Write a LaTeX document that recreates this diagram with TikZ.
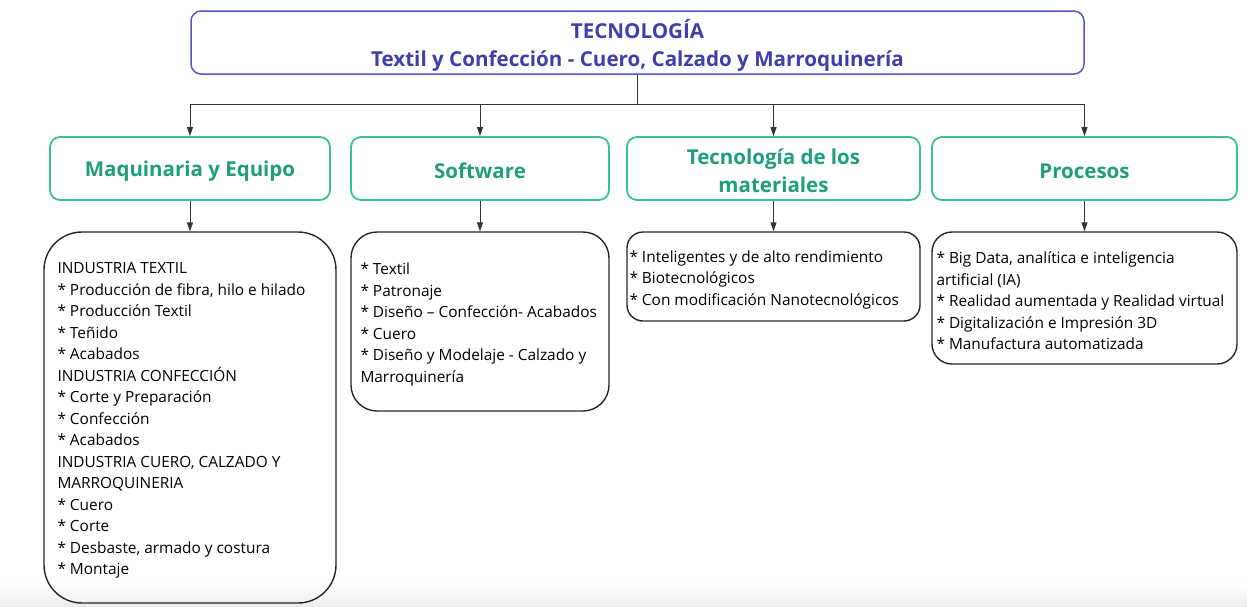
\documentclass[tikz,border=0pt]{standalone}
\usepackage{fontspec}
\setmainfont{Open Sans}
\usetikzlibrary{arrows.meta}
\definecolor{topborder}{HTML}{5558C4}
\definecolor{toptext}{HTML}{3C40A8}
\definecolor{tealborder}{HTML}{3DBE9A}
\definecolor{tealtext}{HTML}{1F9E7C}
\definecolor{linecol}{HTML}{333333}
\tikzset{
  x=1pt, y=-1pt,
  topbox/.style={draw=topborder, line width=1.5pt, rounded corners=10pt, minimum width=893pt, minimum height=63pt},
  toplabel/.style={align=center, inner sep=0pt, text=toptext, font=\bfseries\fontsize{20.6}{28}\selectfont},
  catbox/.style={draw=tealborder, line width=1.8pt, rounded corners=10pt, minimum height=63pt},
  catlabel/.style={align=center, inner sep=0pt, text=tealtext, font=\bfseries\fontsize{20.5}{28}\selectfont},
  listbox/.style={draw=black!85, line width=1.4pt},
  listtext/.style={anchor=west, align=left, inner sep=0pt, font=\fontsize{15.4}{21.5}\selectfont},
  conn/.style={draw=linecol, line width=1pt},
  arr/.style={conn, -{Stealth[length=9pt,width=6pt,inset=0pt]}},
}
\begin{document}
\begin{tikzpicture}
\useasboundingbox (0,0) rectangle (1247,606);
\shade[top color=white, bottom color=black!7] (0,582) rectangle (1247,606);

\node[topbox] (top) at (637.5,42.5) {};
\node[toplabel] (toptxt) at ([yshift=-2.5pt]top.center) {TECNOLOGÍA\\Textil y Confección - Cuero, Calzado y Marroquinería};

\node[catbox, minimum width=280pt] (c1) at (190,168.5) {};
\node[catbox, minimum width=258pt] (c2) at (480,168.5) {};
\node[catbox, minimum width=293pt] (c3) at (773.5,168.5) {};
\node[catbox, minimum width=305pt] (c4) at (1084.5,168.5) {};
\node[catlabel] (l1) at ([yshift=-2.5pt]c1.center) {Maquinaria y Equipo};
\node[catlabel] (l2) at ([yshift=-2.5pt]c2.center) {Software};
\node[catlabel] (l3) at ([yshift=-2pt]c3.center) {Tecnología de los\\materiales};
\node[catlabel] (l4) at ([yshift=-2.5pt]c4.center) {Procesos};

\node[listbox, rounded corners=38pt, minimum width=292pt, minimum height=371pt] (b1) at (190,417.5) {};
\node[listbox, rounded corners=26pt, minimum width=258pt, minimum height=179pt] (b2) at (480,321.5) {};
\node[listbox, rounded corners=16pt, minimum width=293pt, minimum height=89pt] (b3) at (773.5,276.5) {};
\node[listbox, rounded corners=20pt, minimum width=305pt, minimum height=132pt] (b4) at (1084.5,298) {};

\node[listtext] (t1) at ([xshift=14pt,yshift=-3pt]b1.west) {INDUSTRIA TEXTIL\\* Producción de fibra, hilo e hilado\\* Producción Textil\\* Teñido\\* Acabados\\INDUSTRIA CONFECCIÓN\\* Corte y Preparación\\* Confección\\* Acabados\\INDUSTRIA CUERO, CALZADO Y\\MARROQUINERIA\\* Cuero\\* Corte\\* Desbaste, armado y costura\\* Montaje};
\node[listtext] (t2) at ([xshift=10pt,yshift=-3pt]b2.west) {* Textil\\* Patronaje\\* Diseño – Confección- Acabados\\* Cuero\\* Diseño y Modelaje - Calzado y\\Marroquinería};
\node[listtext] (t3) at ([xshift=3pt,yshift=-3pt]b3.west) {* Inteligentes y de alto rendimiento\\* Biotecnológicos\\* Con modificación Nanotecnológicos};
\node[listtext] (t4) at ([xshift=5pt,yshift=-3pt]b4.west) {* Big Data, analítica e inteligencia\\artificial (IA)\\* Realidad aumentada y Realidad virtual\\* Digitalización e Impresión 3D\\* Manufactura automatizada};

\coordinate (j) at (637.5,104);
\draw[conn] (top.south) -- (j);
\draw[arr] (j) -| (c1.north);
\draw[arr] (j) -| (c2.north);
\draw[arr] (j) -| (c3.north);
\draw[arr] (j) -| (c4.north);

\draw[arr] (c1.south) -- (b1.north);
\draw[arr] (c2.south) -- (b2.north);
\draw[arr] (c3.south) -- (b3.north);
\draw[arr] (c4.south) -- (b4.north);
\end{tikzpicture}
\end{document}
